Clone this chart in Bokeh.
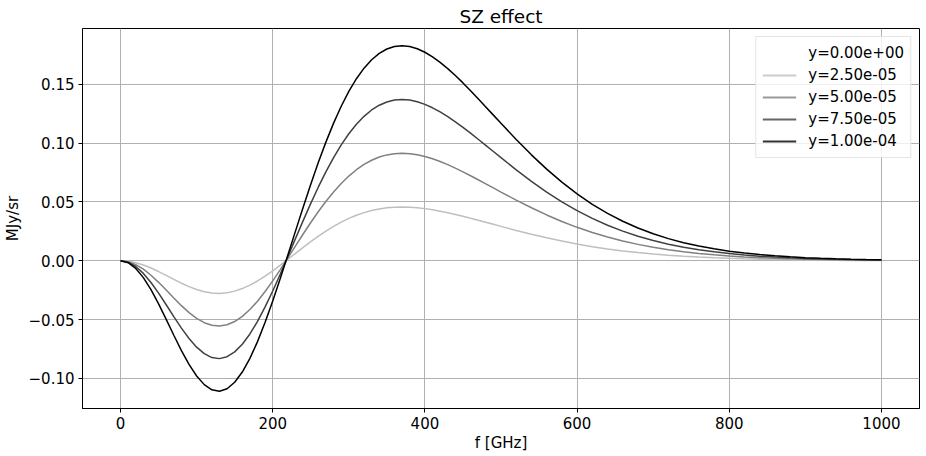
from bokeh.plotting import figure
from bokeh.models import (Range1d, FixedTicker, CustomJSTickFormatter, Legend,
                          LegendItem, ColumnDataSource)
from bokeh.embed import file_html
from bokeh.resources import INLINE

# ---------------- data ----------------
freq = [0, 10, 20, 30, 40, 50, 60, 70, 80, 90,
        100, 110, 120, 130, 140, 150, 160, 170, 180, 190,
        200, 210, 220, 230, 240, 250, 260, 270, 280, 290,
        300, 310, 320, 330, 340, 350, 360, 370, 380, 390,
        400, 410, 420, 430, 440, 450, 460, 470, 480, 490,
        500, 520, 540, 560, 580, 600, 620, 640, 660, 680,
        700, 720, 740, 760, 780, 800, 820, 840, 860, 880,
        900, 920, 940, 960, 980, 1000]

y_0 = [0.0, 0.0, 0.0, 0.0, 0.0, 0.0, 0.0, 0.0, 0.0, 0.0,
       0.0, 0.0, 0.0, 0.0, 0.0, 0.0, 0.0, 0.0, 0.0, 0.0,
       0.0, 0.0, 0.0, 0.0, 0.0, 0.0, 0.0, 0.0, 0.0, 0.0,
       0.0, 0.0, 0.0, 0.0, 0.0, 0.0, 0.0, 0.0, 0.0, 0.0,
       0.0, 0.0, 0.0, 0.0, 0.0, 0.0, 0.0, 0.0, 0.0, 0.0,
       0.0, 0.0, 0.0, 0.0, 0.0, 0.0, 0.0, 0.0, 0.0, 0.0,
       0.0, 0.0, 0.0, 0.0, 0.0, 0.0, 0.0, 0.0, 0.0, 0.0,
       0.0, 0.0, 0.0, 0.0, 0.0, 0.0]

y_25 = [0.0, -0.00042, -0.00164, -0.00359, -0.00616, -0.00918, -0.01248, -0.01585, -0.01910, -0.02205,
        -0.02451, -0.02635, -0.02745, -0.02776, -0.02722, -0.02585, -0.02367, -0.02076, -0.01720, -0.01310,
        -0.00857, -0.00374, 0.00128, 0.00635, 0.01139, 0.01628, 0.02093, 0.02529, 0.02928, 0.03287,
        0.03602, 0.03872, 0.04097, 0.04276, 0.04411, 0.04504, 0.04557, 0.04573, 0.04556, 0.04509,
        0.04435, 0.04338, 0.04221, 0.04087, 0.03940, 0.03783, 0.03618, 0.03447, 0.03273, 0.03098,
        0.02923, 0.02580, 0.02253, 0.01949, 0.01672, 0.01422, 0.01201, 0.01008, 0.00840, 0.00697,
        0.00574, 0.00471, 0.00385, 0.00313, 0.00253, 0.00204, 0.00164, 0.00131, 0.00105, 0.00083,
        0.00066, 0.00052, 0.00041, 0.00032, 0.00025, 0.00020]

y_50 = [0.0, -0.00083, -0.00328, -0.00719, -0.01232, -0.01836, -0.02495, -0.03170, -0.03821, -0.04409,
        -0.04902, -0.05270, -0.05491, -0.05551, -0.05444, -0.05169, -0.04735, -0.04152, -0.03441, -0.02620,
        -0.01715, -0.00748, 0.00255, 0.01271, 0.02278, 0.03255, 0.04187, 0.05057, 0.05856, 0.06574,
        0.07204, 0.07745, 0.08194, 0.08552, 0.08822, 0.09007, 0.09113, 0.09146, 0.09112, 0.09017,
        0.08869, 0.08675, 0.08442, 0.08175, 0.07881, 0.07566, 0.07235, 0.06894, 0.06546, 0.06195,
        0.05845, 0.05159, 0.04506, 0.03898, 0.03343, 0.02844, 0.02403, 0.02016, 0.01681, 0.01393,
        0.01149, 0.00942, 0.00769, 0.00625, 0.00506, 0.00408, 0.00328, 0.00262, 0.00209, 0.00167,
        0.00132, 0.00105, 0.00082, 0.00065, 0.00051, 0.00040]

y_75 = [0.0, -0.00125, -0.00491, -0.01078, -0.01847, -0.02754, -0.03743, -0.04755, -0.05731, -0.06614,
        -0.07352, -0.07904, -0.08236, -0.08327, -0.08166, -0.07754, -0.07102, -0.06228, -0.05161, -0.03930,
        -0.02572, -0.01122, 0.00383, 0.01906, 0.03416, 0.04883, 0.06280, 0.07586, 0.08783, 0.09860,
        0.10806, 0.11617, 0.12290, 0.12827, 0.13232, 0.13511, 0.13670, 0.13719, 0.13668, 0.13526,
        0.13304, 0.13013, 0.12662, 0.12262, 0.11821, 0.11348, 0.10853, 0.10340, 0.09818, 0.09293,
        0.08768, 0.07739, 0.06759, 0.05847, 0.05015, 0.04266, 0.03604, 0.03023, 0.02521, 0.02090,
        0.01723, 0.01413, 0.01154, 0.00938, 0.00759, 0.00612, 0.00491, 0.00393, 0.00314, 0.00250,
        0.00198, 0.00157, 0.00123, 0.00097, 0.00076, 0.00059]

y_100 = [0.0, -0.00166, -0.00655, -0.01437, -0.02463, -0.03672, -0.04990, -0.06340, -0.07641, -0.08818,
         -0.09803, -0.10539, -0.10981, -0.11102, -0.10888, -0.10338, -0.09469, -0.08304, -0.06881, -0.05240,
         -0.03429, -0.01496, 0.00510, 0.02541, 0.04555, 0.06510, 0.08373, 0.10114, 0.11711, 0.13147,
         0.14408, 0.15489, 0.16387, 0.17103, 0.17643, 0.18014, 0.18226, 0.18292, 0.18224, 0.18034,
         0.17738, 0.17350, 0.16883, 0.16349, 0.15761, 0.15131, 0.14470, 0.13787, 0.13091, 0.12390,
         0.11690, 0.10318, 0.09012, 0.07796, 0.06686, 0.05688, 0.04805, 0.04031, 0.03361, 0.02786,
         0.02297, 0.01884, 0.01538, 0.01250, 0.01012, 0.00816, 0.00655, 0.00524, 0.00418, 0.00333,
         0.00264, 0.00209, 0.00164, 0.00129, 0.00101, 0.00079]

series_labels = ["y=0.00e+00", "y=2.50e-05", "y=5.00e-05", "y=7.50e-05", "y=1.00e-04"]
line_colors = ["#ffffff", "#bfbfbf", "#808080", "#404040", "#000000"]
legend_colors = ["#ffffff", "#cccccc", "#999999", "#666666", "#333333"]

x_ticks = [0, 200, 400, 600, 800, 1000]
y_ticks = [-0.10, -0.05, 0.0, 0.05, 0.10, 0.15]

title_text = "SZ effect"
x_label = "f [GHz]"
y_label = "MJy/sr"

# ---------------- figure ----------------
FONT = "DejaVu Sans"
x0, x1 = -50, 1050
y0, y1 = -0.1257, 0.1976

p = figure(width=920, height=454, output_backend="svg", toolbar_location=None,
           x_range=Range1d(x0, x1), y_range=Range1d(y0, y1),
           min_border_left=82, min_border_right=1, min_border_top=28,
           min_border_bottom=46, title=title_text)
p.background_fill_color = "white"
p.border_fill_color = "white"
p.outline_line_color = "black"
p.outline_line_width = 1

p.title.align = "center"
p.title.text_font = FONT
p.title.text_font_size = "18.5px"
p.title.text_font_style = "normal"
p.title.text_color = "black"
p.title.standoff = 4

for ax in (p.xaxis[0], p.yaxis[0]):
    ax.axis_line_color = "black"
    ax.major_tick_line_color = "black"
    ax.major_tick_out = 4
    ax.major_tick_in = 0
    ax.minor_tick_line_color = None
    ax.major_label_standoff = 4
    ax.major_label_text_font = FONT
    ax.major_label_text_font_size = "15px"
    ax.major_label_text_color = "black"
    ax.axis_label_text_font = FONT
    ax.axis_label_text_font_size = "15px"
    ax.axis_label_text_font_style = "normal"
    ax.axis_label_text_color = "black"

p.xaxis[0].axis_label = x_label
p.yaxis[0].axis_label = y_label
p.xaxis[0].axis_label_standoff = 2
p.yaxis[0].axis_label_standoff = 4

p.xaxis[0].ticker = FixedTicker(ticks=x_ticks)
p.yaxis[0].ticker = FixedTicker(ticks=y_ticks)
p.yaxis[0].formatter = CustomJSTickFormatter(
    code="var s = Math.abs(tick).toFixed(2); return (tick < -1e-9 ? '\u2212' : '') + s;")

p.grid.grid_line_color = "#b0b0b0"
p.grid.grid_line_width = 1

src = ColumnDataSource(dict(f=freq, y0=y_0, y1=y_25, y2=y_50, y3=y_75, y4=y_100))
keys = ["y0", "y1", "y2", "y3", "y4"]
for k, col in zip(keys, line_colors):
    if k == "y0":
        p.line("f", k, source=src, line_color=col, line_width=1.5, line_alpha=0.0)
    else:
        p.line("f", k, source=src, line_color=col, line_width=1.5)

nan = float("nan")
items = []
for lab, col in zip(series_labels, legend_colors):
    r = p.line(x=[nan, nan], y=[nan, nan], line_color=col, line_width=2)
    items.append(LegendItem(label=lab, renderers=[r]))

legend = Legend(items=items, location="top_right", margin=8, padding=6, spacing=2,
                glyph_height=20, glyph_width=34, label_standoff=12,
                label_text_font=FONT, label_text_font_size="15px",
                label_text_color="black", label_height=20,
                border_line_color="#cccccc", border_line_width=1,
                background_fill_color="white", background_fill_alpha=0.8)
p.add_layout(legend)

open("out.html", "w").write(file_html(p, INLINE))
